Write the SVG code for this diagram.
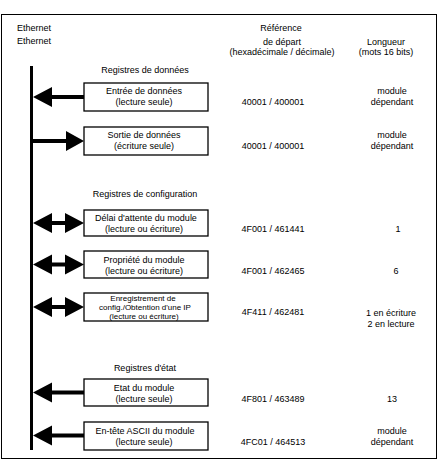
<svg xmlns="http://www.w3.org/2000/svg" width="440" height="464" viewBox="0 0 440 464">
<style>
text{font-family:"Liberation Sans",Arial,sans-serif;font-size:9px;fill:#000;text-anchor:middle}
.sm{font-size:8px}
.box{fill:#fff;stroke:#000;stroke-width:1.3}
.arr{fill:#000}
</style>
<defs>
<path id="left" d="M33,0 L52,-10 L52,-2 L84,-2 L84,2 L52,2 L52,10 Z"/>
<path id="right" d="M33,-2 L66,-2 L66,-10 L84,0 L66,10 L66,2 L33,2 Z"/>
<path id="both" d="M33,0 L52,-10 L52,-2 L65,-2 L65,-10 L84,0 L65,10 L65,2 L52,2 L52,10 Z"/>
</defs>
<rect x="0" y="0" width="440" height="464" fill="#fff"/>
<rect x="1.5" y="14.5" width="435" height="444" fill="none" stroke="#000" stroke-width="1"/>

<g id="headers">
<text x="34" y="31">Ethernet</text>
<text x="34" y="44">Ethernet</text>
<text x="281" y="31">Référence</text>
<text x="282" y="45">de départ</text>
<text x="282" y="55">(hexadécimale / décimale)</text>
<text x="386" y="45">Longueur</text>
<text x="386" y="55">(mots 16 bits)</text>
<text x="145" y="73">Registres de données</text>
<text x="145" y="197">Registres de configuration</text>
<text x="145" y="371">Registres d'état</text>
</g>

<g id="bus">
<rect x="30" y="66" width="3" height="384" fill="#000"/>
</g>

<g id="connectors" class="arr">
<use href="#left" y="97"/>
<use href="#right" y="141"/>
<use href="#both" y="223"/>
<use href="#both" y="264.5"/>
<use href="#both" y="307"/>
<use href="#left" y="392.5"/>
<use href="#left" y="435.5"/>
</g>

<g id="entree">
<rect class="box" x="84" y="83" width="124" height="28"/>
<text x="144" y="94">Entrée de données</text>
<text x="144" y="105">(lecture seule)</text>
<text x="273" y="105">40001 / 400001</text>
<text x="392" y="94">module</text>
<text x="392" y="105">dépendant</text>
</g>

<g id="sortie">
<rect class="box" x="84" y="127" width="124" height="28"/>
<text x="144" y="138">Sortie de données</text>
<text x="144" y="149">(écriture seule)</text>
<text x="273" y="149">40001 / 400001</text>
<text x="392" y="138">module</text>
<text x="392" y="149">dépendant</text>
</g>

<g id="delai">
<rect class="box" x="84" y="210" width="124" height="26"/>
<text x="146" y="221">Délai d'attente du module</text>
<text x="144" y="232">(lecture ou écriture)</text>
<text x="273" y="232">4F001 / 461441</text>
<text x="398" y="232">1</text>
</g>

<g id="propriete">
<rect class="box" x="84" y="251" width="124" height="27"/>
<text x="144" y="263">Propriété du module</text>
<text x="144" y="274">(lecture ou écriture)</text>
<text x="273" y="274">4F001 / 462465</text>
<text x="396" y="274">6</text>
</g>

<g id="enregistrement">
<rect class="box" x="84" y="293" width="124" height="28"/>
<text class="sm" x="143" y="301">Enregistrement de</text>
<text class="sm" x="145" y="310">config./Obtention d'une IP</text>
<text class="sm" x="144" y="319">(lecture ou écriture)</text>
<text x="273" y="315">4F411 / 462481</text>
<text x="391" y="316">1 en écriture</text>
<text x="391" y="327">2 en lecture</text>
</g>

<g id="etat">
<rect class="box" x="84" y="379" width="124" height="27"/>
<text x="144" y="391">Etat du module</text>
<text x="144" y="402">(lecture seule)</text>
<text x="273" y="402">4F801 / 463489</text>
<text x="392" y="402">13</text>
</g>

<g id="entete">
<rect class="box" x="84" y="422" width="124" height="28"/>
<text x="145" y="434">En-tête ASCII du module</text>
<text x="144" y="445">(lecture seule)</text>
<text x="273" y="445">4FC01 / 464513</text>
<text x="392" y="434">module</text>
<text x="392" y="445">dépendant</text>
</g>
</svg>
